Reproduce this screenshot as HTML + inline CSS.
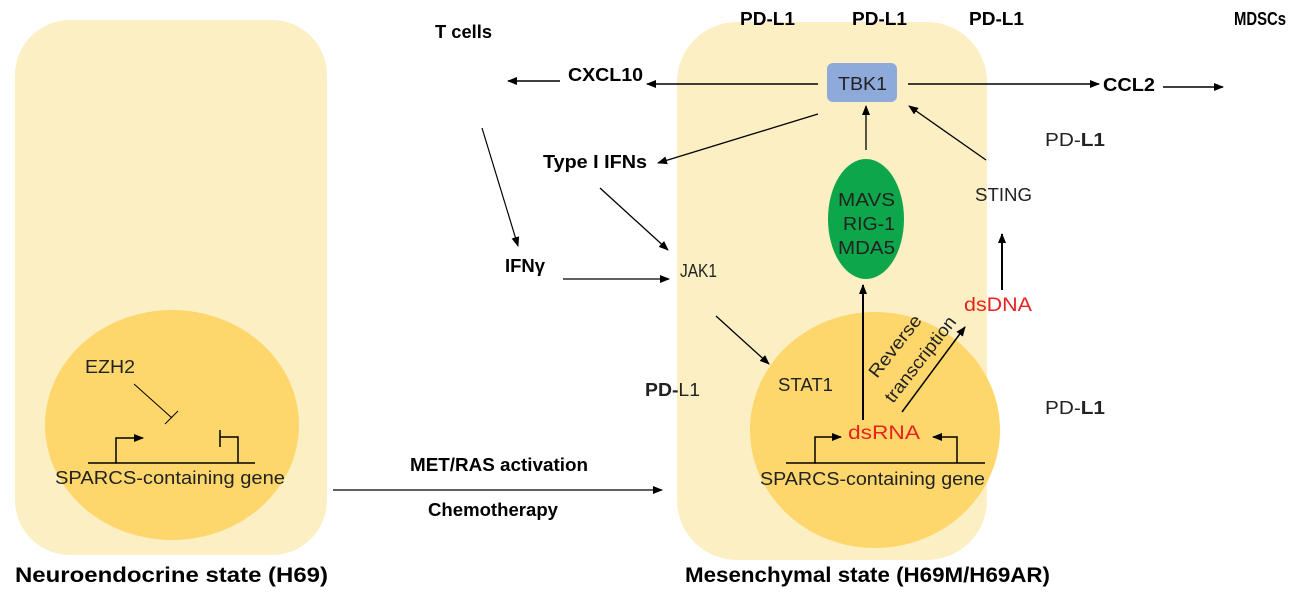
<!DOCTYPE html>
<html><head><meta charset="utf-8"><style>
html,body{margin:0;padding:0;background:#fff;}
svg{display:block}
text{font-family:"Liberation Sans",Arial,sans-serif;}
.b{font-weight:bold;font-size:18px;fill:#000}
.n{font-size:18px;fill:#222}
.r{font-size:19px;fill:#e8231f}
</style></head><body>
<svg width="1299" height="600" viewBox="0 0 1299 600" xmlns="http://www.w3.org/2000/svg">
<defs>
<marker id="a" markerWidth="10" markerHeight="8" refX="9" refY="4" orient="auto" markerUnits="userSpaceOnUse"><path d="M0,0 L10,4 L0,8 z" fill="#000"/></marker>
</defs>
<rect x="15" y="20" width="312" height="535" rx="55" fill="#fdefc4"/>
<rect x="677" y="22" width="310" height="538" rx="60" fill="#fdefc4"/>
<ellipse cx="172" cy="425" rx="127" ry="115" fill="#fdd76c"/>
<ellipse cx="875" cy="430" rx="125" ry="118" fill="#fdd76c"/>

<text class="b" x="740" y="25" textLength="55" lengthAdjust="spacingAndGlyphs">PD-L1</text>
<text class="b" x="852" y="25" textLength="55" lengthAdjust="spacingAndGlyphs">PD-L1</text>
<text class="b" x="969" y="25" textLength="55" lengthAdjust="spacingAndGlyphs">PD-L1</text>
<text class="b" x="1234" y="25" textLength="52" lengthAdjust="spacingAndGlyphs" font-size="19">MDSCs</text>
<text class="b" x="435" y="38" textLength="57" lengthAdjust="spacingAndGlyphs">T cells</text>
<text class="b" x="568" y="81" textLength="75" lengthAdjust="spacingAndGlyphs">CXCL10</text>
<text class="b" x="1103" y="91" textLength="52" lengthAdjust="spacingAndGlyphs">CCL2</text>
<text class="b" x="543" y="168" textLength="104" lengthAdjust="spacingAndGlyphs">Type I IFNs</text>
<text class="b" x="505" y="272" textLength="40" lengthAdjust="spacingAndGlyphs">IFNγ</text>
<text class="n" x="1045" y="146" textLength="60" lengthAdjust="spacingAndGlyphs">PD-<tspan font-weight="bold">L1</tspan></text>
<text class="n" x="645" y="396" textLength="55" lengthAdjust="spacingAndGlyphs"><tspan font-weight="bold">PD-</tspan>L1</text>
<text class="n" x="1045" y="414" textLength="60" lengthAdjust="spacingAndGlyphs">PD-<tspan font-weight="bold">L1</tspan></text>

<rect x="827" y="63" width="70" height="39" rx="6" fill="#8eaadb"/>
<text class="n" x="838" y="90" textLength="49" lengthAdjust="spacingAndGlyphs">TBK1</text>
<line x1="818" y1="84" x2="647" y2="84" stroke="#000" stroke-width="1.5" marker-end="url(#a)"/>
<line x1="560" y1="81" x2="508" y2="81" stroke="#000" stroke-width="1.5" marker-end="url(#a)"/>
<line x1="908" y1="84" x2="1099" y2="84" stroke="#000" stroke-width="1.5" marker-end="url(#a)"/>
<line x1="1163" y1="87" x2="1223" y2="87" stroke="#000" stroke-width="1.5" marker-end="url(#a)"/>
<line x1="818" y1="114" x2="658" y2="163" stroke="#000" stroke-width="1.3" marker-end="url(#a)"/>
<line x1="866" y1="150" x2="866" y2="106" stroke="#000" stroke-width="1.3" marker-end="url(#a)"/>
<line x1="986" y1="160" x2="909" y2="106" stroke="#000" stroke-width="1.3" marker-end="url(#a)"/>
<line x1="482" y1="128" x2="518" y2="246" stroke="#000" stroke-width="1.2" marker-end="url(#a)"/>
<line x1="600" y1="188" x2="668" y2="250" stroke="#000" stroke-width="1.3" marker-end="url(#a)"/>
<line x1="563" y1="279" x2="669" y2="279" stroke="#000" stroke-width="1.3" marker-end="url(#a)"/>

<ellipse cx="866" cy="219" rx="38" ry="60" fill="#0ea64a"/>
<text class="n" x="838" y="206" textLength="57" lengthAdjust="spacingAndGlyphs">MAVS</text>
<text class="n" x="843" y="230" textLength="52" lengthAdjust="spacingAndGlyphs">RIG-1</text>
<text class="n" x="838" y="254" textLength="57" lengthAdjust="spacingAndGlyphs">MDA5</text>
<text class="n" x="975" y="201" textLength="57" lengthAdjust="spacingAndGlyphs">STING</text>
<text class="n" x="680" y="277" textLength="37" lengthAdjust="spacingAndGlyphs" font-size="19">JAK1</text>
<text class="r" x="964" y="311" textLength="68" lengthAdjust="spacingAndGlyphs">dsDNA</text>
<line x1="1002" y1="290" x2="1002" y2="234" stroke="#000" stroke-width="2" marker-end="url(#a)"/>
<line x1="716" y1="316" x2="769" y2="364" stroke="#000" stroke-width="1.3" marker-end="url(#a)"/>
<text class="n" x="778" y="391" textLength="55" lengthAdjust="spacingAndGlyphs">STAT1</text>
<line x1="863" y1="420" x2="863" y2="285" stroke="#000" stroke-width="2" marker-end="url(#a)"/>
<line x1="902" y1="412" x2="965" y2="327" stroke="#000" stroke-width="1.5" marker-end="url(#a)"/>
<text class="n" transform="translate(877,379) rotate(-52)" textLength="74" lengthAdjust="spacingAndGlyphs">Reverse</text>
<text class="n" transform="translate(893,404) rotate(-52)" textLength="104" lengthAdjust="spacingAndGlyphs">transcription</text>
<text class="r" x="848" y="439" textLength="72" lengthAdjust="spacingAndGlyphs">dsRNA</text>

<polyline points="786,463 815,463 815,437 841,437" fill="none" stroke="#000" stroke-width="1.5" marker-end="url(#a)"/>
<line x1="815" y1="463" x2="985" y2="463" stroke="#000" stroke-width="1.5"/>
<polyline points="957,463 957,437 933,437" fill="none" stroke="#000" stroke-width="1.5" marker-end="url(#a)"/>
<text class="n" x="760" y="485" textLength="225" lengthAdjust="spacingAndGlyphs">SPARCS-containing gene</text>

<text class="n" x="85" y="373" textLength="50" lengthAdjust="spacingAndGlyphs">EZH2</text>
<line x1="134" y1="384" x2="172" y2="418" stroke="#000" stroke-width="1"/>
<line x1="165" y1="424" x2="178" y2="411" stroke="#000" stroke-width="1"/>
<polyline points="88,463 116,463 116,438 143,438" fill="none" stroke="#000" stroke-width="1.5" marker-end="url(#a)"/>
<line x1="116" y1="463" x2="255" y2="463" stroke="#000" stroke-width="1.5"/>
<polyline points="238,463 238,437 220,437" fill="none" stroke="#000" stroke-width="1.5"/>
<line x1="220" y1="430" x2="220" y2="447" stroke="#000" stroke-width="1.5"/>
<text class="n" x="55" y="484" textLength="230" lengthAdjust="spacingAndGlyphs">SPARCS-containing gene</text>

<text class="b" x="410" y="471" textLength="178" lengthAdjust="spacingAndGlyphs">MET/RAS activation</text>
<line x1="333" y1="490" x2="662" y2="490" stroke="#000" stroke-width="1.3" marker-end="url(#a)"/>
<text class="b" x="428" y="516" textLength="130" lengthAdjust="spacingAndGlyphs">Chemotherapy</text>

<text x="15" y="582" font-weight="bold" font-size="21" fill="#000" textLength="313" lengthAdjust="spacingAndGlyphs">Neuroendocrine state (H69)</text>
<text x="685" y="582" font-weight="bold" font-size="21" fill="#000" textLength="365" lengthAdjust="spacingAndGlyphs">Mesenchymal state (H69M/H69AR)</text>
</svg>
</body></html>
